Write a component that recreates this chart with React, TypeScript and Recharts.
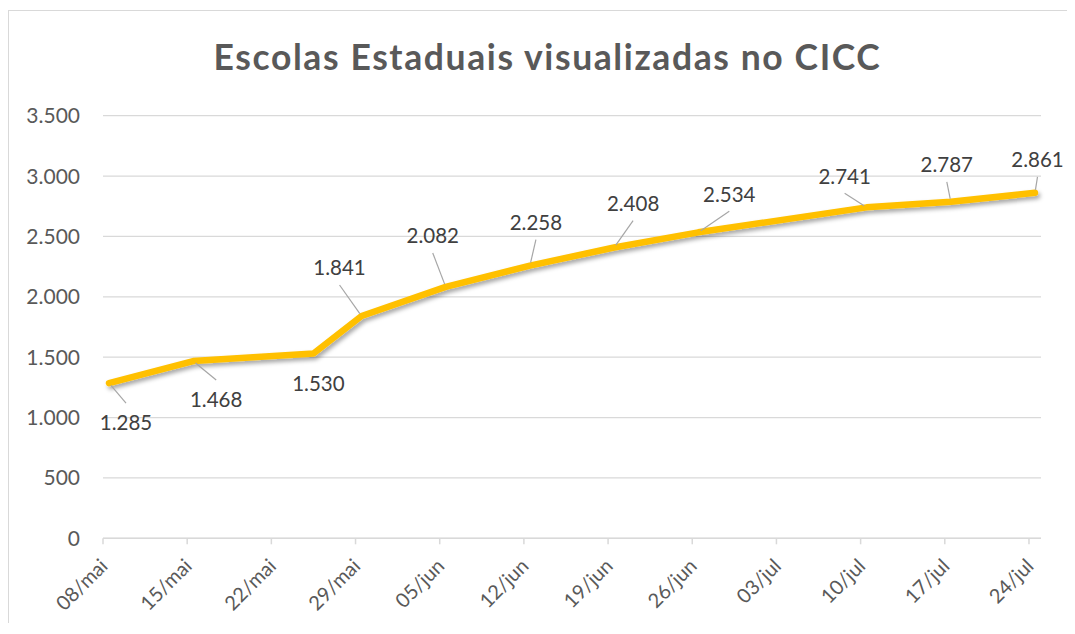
import { CartesianGrid, Line, LineChart, XAxis, YAxis } from "recharts";

// days counted from 08/mai
const DAY_OFFSETS = [0, 7, 17, 21, 28, 35, 42, 49, 63, 70, 77];
const VALUES = [1285, 1468, 1530, 1841, 2082, 2258, 2408, 2534, 2741, 2787, 2861];

const TICK_DAYS = [0, 7, 14, 21, 28, 35, 42, 49, 56, 63, 70, 77];
const TICK_LABELS = [
  "08/mai",
  "15/mai",
  "22/mai",
  "29/mai",
  "05/jun",
  "12/jun",
  "19/jun",
  "26/jun",
  "03/jul",
  "10/jul",
  "17/jul",
  "24/jul",
];
const Y_TICKS = [0, 500, 1000, 1500, 2000, 2500, 3000, 3500];

const TITLE = "Escolas Estaduais visualizadas no CICC";

// where each data label sits relative to its point (dx, dy of label centre)
const LABEL_OFFSETS: [number, number][] = [
  [17, 40],
  [23, 39],
  [5, 30],
  [-22, -48],
  [-13, -51],
  [6, -43],
  [19, -44],
  [31, -38],
  [-22, -31],
  [-4, -37],
  [2.5, -33],
];
const NO_LEADER = [2];

const FONT = "Lato, 'Open Sans', sans-serif";
const GRID = "#d9d9d9";
const AXIS_TEXT = "#595959";
const LABEL_TEXT = "#404040";
const LINE_GOLD = "#ffc000";

const chartData = DAY_OFFSETS.map((day, i) => ({ x: day + 0.5, value: VALUES[i] }));

function formatThousands(v: number): string {
  return String(v).replace(/\B(?=(\d{3})+(?!\d))/g, ".");
}

function DateTick(props: { x?: number; y?: number; payload?: { value: number } }) {
  const { x = 0, y = 0, payload } = props;
  const idx = TICK_DAYS.indexOf(Number(payload?.value));
  const ax = x + 6;
  const ay = y + 21;
  return (
    <text
      x={ax}
      y={ay}
      transform={`rotate(-45 ${ax} ${ay})`}
      textAnchor="end"
      fill={AXIS_TEXT}
      fontSize={20}
      fontFamily={FONT}
    >
      {idx >= 0 ? TICK_LABELS[idx] : ""}
    </text>
  );
}

function ValueLabel(props: { cx?: number; cy?: number; index?: number }) {
  const { cx = 0, cy = 0, index = 0 } = props;
  const [dx, dy] = LABEL_OFFSETS[index] ?? [0, -30];
  const lx = cx + dx;
  const ly = cy + dy;
  const above = dy < 0;
  const endY = above ? ly + 17 : ly - 20;
  const len = Math.hypot(lx - cx, endY - cy) || 1;
  const sx = cx + ((lx - cx) / len) * 3;
  const sy = cy + ((endY - cy) / len) * 3;
  return (
    <g key={`lbl-${index}`}>
      {!NO_LEADER.includes(index) && (
        <line x1={sx} y1={sy} x2={lx} y2={endY} stroke="#a6a6a6" strokeWidth={1.2} />
      )}
      <text
        x={lx}
        y={ly + 7.3}
        textAnchor="middle"
        fill={LABEL_TEXT}
        fontSize={20.5}
        fontFamily={FONT}
      >
        {formatThousands(VALUES[index])}
      </text>
    </g>
  );
}

export default function App() {
  return (
    <>
      <style>{`body{overflow:hidden} .gold-line .recharts-line-curve{filter:url(#lineShadow)}`}</style>
      <div
        style={{
          position: "relative",
          top: 2,
          width: 1059,
          height: 614,
          borderLeft: `1px solid ${GRID}`,
          borderTop: `1px solid ${GRID}`,
          fontFamily: FONT,
        }}
      >
        <div
          style={{
            position: "absolute",
            left: 0,
            top: 28.2,
            width: 1077,
            textAlign: "center",
            fontSize: 35.5,
            lineHeight: "35.5px",
            letterSpacing: 1.6,
            fontWeight: 700,
            color: "#595959",
            whiteSpace: "nowrap",
          }}
        >
          {TITLE}
        </div>
        <LineChart
          width={1058}
          height={614}
          data={chartData}
          margin={{ top: 104.7, right: 26, bottom: 6.7, left: 0 }}
          style={{ position: "absolute", left: 0, top: 0 }}
        >
          <defs>
            <filter id="lineShadow" x="-5%" y="-20%" width="110%" height="150%">
              <feDropShadow dx={2} dy={3} stdDeviation={2} floodColor="#000" floodOpacity={0.35} />
            </filter>
          </defs>
          <CartesianGrid vertical={false} stroke={GRID} strokeWidth={1.2} />
          <XAxis
            dataKey="x"
            type="number"
            domain={[0, 78]}
            ticks={TICK_DAYS}
            interval={0}
            height={80}
            tickSize={6}
            tickMargin={2}
            stroke={GRID}
            tickLine={{ stroke: GRID, strokeWidth: 1.5 }}
            axisLine={{ stroke: GRID, strokeWidth: 1.5 }}
            tick={<DateTick />}
          />
          <YAxis
            type="number"
            domain={[0, 3500]}
            ticks={Y_TICKS}
            width={94}
            tickSize={0}
            tickMargin={23}
            axisLine={false}
            tickLine={false}
            tickFormatter={(v) => formatThousands(Number(v))}
            tick={{ fill: AXIS_TEXT, fontSize: 21, fontFamily: FONT }}
          />
          <Line
            className="gold-line"
            type="linear"
            dataKey="value"
            stroke={LINE_GOLD}
            strokeWidth={6.5}
            strokeLinecap="round"
            strokeLinejoin="round"
            dot={(p: any) => <ValueLabel key={`d-${p.index}`} cx={p.cx} cy={p.cy} index={p.index} />}
            activeDot={false}
            isAnimationActive={false}
          />
        </LineChart>
      </div>
    </>
  );
}
